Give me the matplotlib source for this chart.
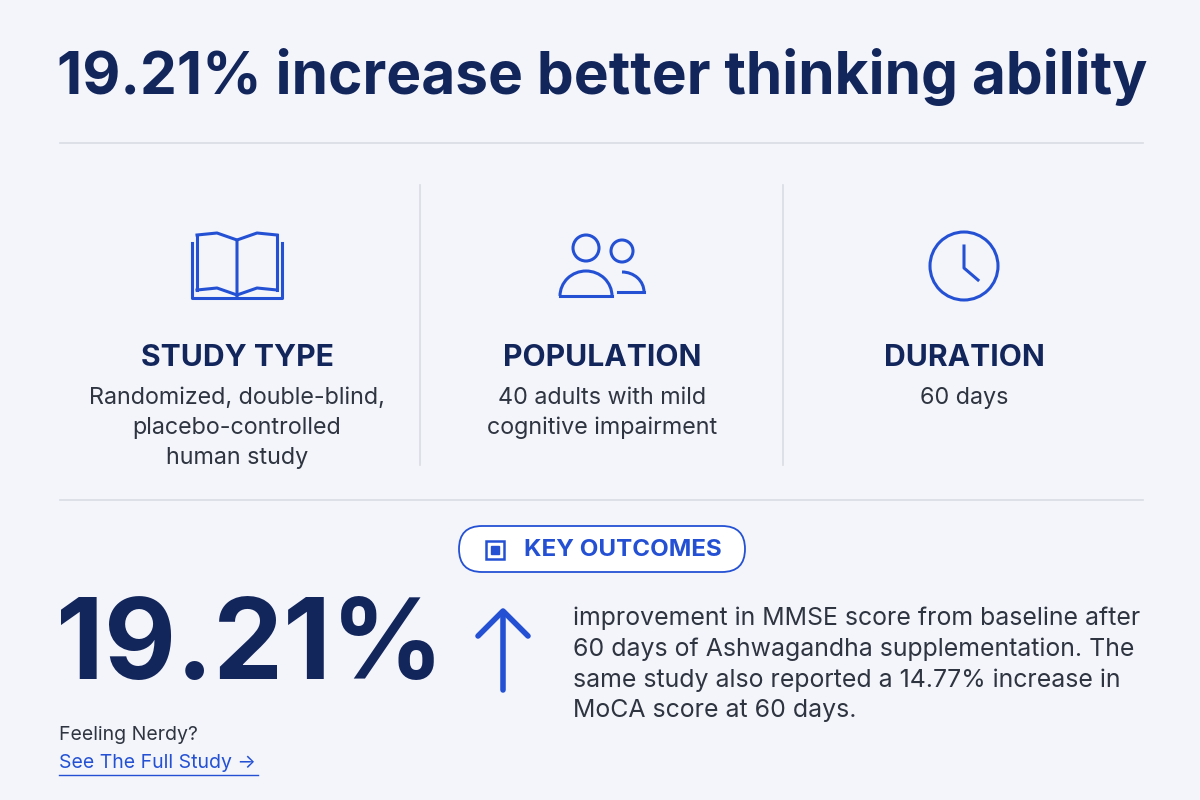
import matplotlib
matplotlib.use("Agg")
import matplotlib.pyplot as plt
from matplotlib.patches import FancyBboxPatch, Circle, Arc, Rectangle

title = "19.21% increase better thinking ability"
headings = ["STUDY TYPE", "POPULATION", "DURATION"]
descriptions = [["Randomized, double-blind,", "placebo-controlled", "human study"],
                ["40 adults with mild", "cognitive impairment"],
                ["60 days"]]
big_stat = "19.21%"
outcome_lines = ["improvement in MMSE score from baseline after",
                 "60 days of Ashwagandha supplementation. The",
                 "same study also reported a 14.77% increase in",
                 "MoCA score at 60 days."]

NAVY = "#13265c"
BLUE = "#2451d4"
GRAY = "#2e3440"
LINE = "#d9dce3"
BG = "#f3f5fa"
plt.rcParams['font.family'] = ['Inter', 'DejaVu Sans']

fig = plt.figure(figsize=(12, 8), dpi=100, facecolor=BG)
ax = fig.add_axes([0, 0, 1, 1])
ax.set_xlim(0, 1200); ax.set_ylim(800, 0); ax.axis("off"); ax.set_facecolor(BG)

ax.text(57, 77, title, fontsize=42.2, fontweight="bold", color=NAVY, va="center", ha="left")
ax.plot([60, 1143], [143, 143], color=LINE, lw=1.2)
ax.plot([60, 1143], [500, 500], color=LINE, lw=1.2)
for x in [420, 783]:
    ax.plot([x, x], [185, 465], color=LINE, lw=1.2)

centers = [237, 602, 964]
for cx, h, desc in zip(centers, headings, descriptions):
    ax.text(cx, 358, h, fontsize=21.7, fontweight="bold", color=NAVY, ha="center", va="center")
    for i, l in enumerate(desc):
        ax.text(cx, 398 + 30 * i, l, fontsize=16.8, color=GRAY, ha="center", va="center")

# book icon
cx = centers[0]; lw = 2.2
ax.plot([cx-45, cx-45, cx+45, cx+45], [243, 298, 298, 243], color=BLUE, lw=lw)
ax.plot([cx-40, cx-40], [235, 290], color=BLUE, lw=lw)
ax.plot([cx+40, cx+40], [235, 290], color=BLUE, lw=lw)
ax.plot([cx-40, cx-20, cx, cx], [235, 233, 240, 298], color=BLUE, lw=lw)
ax.plot([cx+40, cx+20, cx], [235, 233, 240], color=BLUE, lw=lw)
ax.plot([cx-40, cx-20, cx], [290, 288, 295], color=BLUE, lw=lw)
ax.plot([cx+40, cx+20, cx], [290, 288, 295], color=BLUE, lw=lw)

# people icon
cx = centers[1]
ax.add_patch(Circle((cx-16, 248), 13, fill=False, ec=BLUE, lw=lw))
ax.add_patch(Circle((cx+20, 251), 11, fill=False, ec=BLUE, lw=lw))
ax.add_patch(Arc((cx-16, 296), 52, 50, theta1=180, theta2=360, ec=BLUE, lw=lw))
ax.plot([cx-42, cx+10], [296, 296], color=BLUE, lw=lw)
ax.add_patch(Arc((cx+20, 292), 44, 40, theta1=270, theta2=360, ec=BLUE, lw=lw))
ax.plot([cx+16, cx+42], [292, 292], color=BLUE, lw=lw)

# clock icon
cx = centers[2]
ax.add_patch(Circle((cx, 266), 34, fill=False, ec=BLUE, lw=lw))
ax.plot([cx, cx, cx+14], [246, 268, 280], color=BLUE, lw=lw)

# key outcomes pill
ax.add_patch(FancyBboxPatch((459, 526), 286, 46, boxstyle="round,pad=0,rounding_size=23",
                            fc="white", ec=BLUE, lw=1.3))
ax.add_patch(Rectangle((486, 541), 18, 18, fill=False, ec=BLUE, lw=1.8))
ax.add_patch(Rectangle((491, 546), 8, 8, color=BLUE))
ax.text(524, 550, "KEY OUTCOMES", fontsize=17.4, fontweight="bold", color=BLUE, va="center")

ax.text(56, 650, big_stat, fontsize=80, fontweight="bold", color=NAVY, va="center", ha="left")
ax.plot([503, 503], [690, 615], color=BLUE, lw=4, solid_capstyle="round")
ax.plot([478, 503, 528], [636, 611, 636], color=BLUE, lw=4, solid_capstyle="round", solid_joinstyle="round")

for i, l in enumerate(outcome_lines):
    ax.text(573, 618 + 31 * i, l, fontsize=17.9, color=GRAY, va="center")

ax.text(59, 735, "Feeling Nerdy?", fontsize=14, color=GRAY, va="center")
ax.text(59, 763, "See The Full Study \u2192", fontsize=14, color=BLUE, va="center")
ax.plot([59, 258], [775, 775], color=BLUE, lw=1)

fig.savefig("out.png", dpi=100, facecolor=BG)
